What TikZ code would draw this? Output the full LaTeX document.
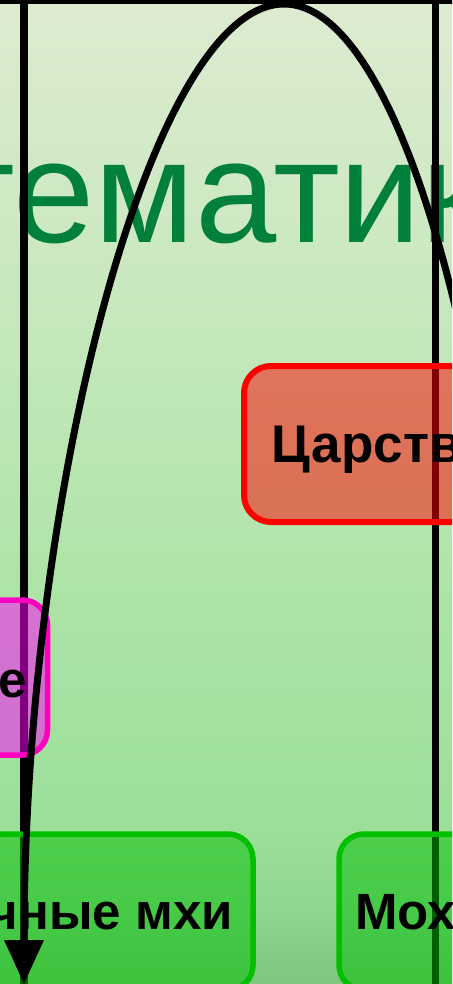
\documentclass[tikz,border=0pt]{standalone}
\usepackage{fontspec}
\setmainfont{Liberation Sans}
\usetikzlibrary{arrows.meta}

% page background colours, top to bottom
\definecolor{bgTop}{RGB}{221,235,209}
\definecolor{bgA}{RGB}{200,232,190}
\definecolor{bgB}{RGB}{172,228,166}
\definecolor{bgC}{RGB}{155,223,153}
\definecolor{bgD}{RGB}{146,215,146}
\definecolor{bgE}{RGB}{126,198,126}
\definecolor{titlegreen}{RGB}{0,128,58}
\definecolor{kingdomred}{RGB}{255,0,0}
\definecolor{classpink}{RGB}{255,0,191}
\definecolor{classfill}{RGB}{255,0,255}
\definecolor{leafgreen}{RGB}{0,192,0}

\pgfdeclareverticalshading{pagebg}{100bp}{%
  color(0bp)=(bgE); color(25bp)=(bgE); color(29.3bp)=(bgD);
  color(32.8bp)=(bgC); color(44.5bp)=(bgB); color(59.8bp)=(bgA);
  color(75bp)=(bgTop); color(100bp)=(bgTop)}

\tikzset{
  box/.style={rectangle, rounded corners=25pt, fill opacity=0.5,
    draw opacity=1, inner sep=0pt},
  redbox/.style={box, draw=kingdomred, fill=kingdomred, line width=6pt,
    rounded corners=27pt},
  pinkbox/.style={box, draw=classpink, fill=classfill, line width=5.5pt},
  greenbox/.style={box, draw=leafgreen, fill=leafgreen, line width=5.5pt},
  boxtext/.style={font=\bfseries\fontsize{53}{64}\selectfont, text=black,
    inner sep=0pt},
  smallboxtext/.style={boxtext, font=\bfseries\fontsize{51}{61}\selectfont},
  titletext/.style={font=\fontsize{146}{175}\selectfont, text=titlegreen,
    inner sep=0pt},
  rail/.style={line width=7.5pt, draw=black},
  loop/.style={line width=7pt, draw=black,
    -{Triangle[length=44pt,width=38pt]}}
}

\begin{document}
\begin{tikzpicture}[x=1pt,y=-1pt]
  \useasboundingbox (0,0) rectangle (452,984);
  \clip (0,0) rectangle (452,984);
  \shade[shading=pagebg] (0,0) rectangle (452,984);

  % heading
  \node[titletext, anchor=base west] (title) at (-312,242) {Систематика};

  % connector rails
  \coordinate (busW) at (-20,0);
  \coordinate (busE) at (472,0);
  \coordinate (railLtop) at (24,0);
  \coordinate (railLbot) at (24,1000);
  \coordinate (railRtop) at (435.5,0);
  \coordinate (railRbot) at (435.5,1000);
  \draw[rail] (busW) -- (busE);
  \draw[rail] (railLtop) -- (railLbot);
  \draw[rail] (railRtop) -- (railRbot);

  % boxes
  \node[redbox, minimum width=480pt, minimum height=156pt] (kingdom) at (484,444) {};
  \node[pinkbox, minimum width=260pt, minimum height=155pt] (group) at (-82.5,677.5) {};
  \node[greenbox, minimum width=400pt, minimum height=156pt] (liver) at (53,912) {};
  \node[greenbox, minimum width=300pt, minimum height=156pt] (moss) at (489,912) {};

  % box labels
  \node[boxtext, anchor=base west] (kingdomtxt) at (271,462) {Царство Растения};
  \node[smallboxtext, anchor=base east] (grouptxt) at (27,697) {Высшие};
  \node[smallboxtext, anchor=base east] (livertxt) at (233,929) {Печёночные мхи};
  \node[smallboxtext, anchor=base west] (mosstxt) at (355,929) {Моховидные};

  % looping arrow
  \coordinate (loopfrom) at (528,984);
  \coordinate (apex) at (284,4);
  \coordinate (loopto) at (24,984);
  \draw[loop] (loopfrom) .. controls (528,496) and (418,4) .. (apex)
    .. controls (150,4) and (24,496) .. (loopto);
\end{tikzpicture}
\end{document}
